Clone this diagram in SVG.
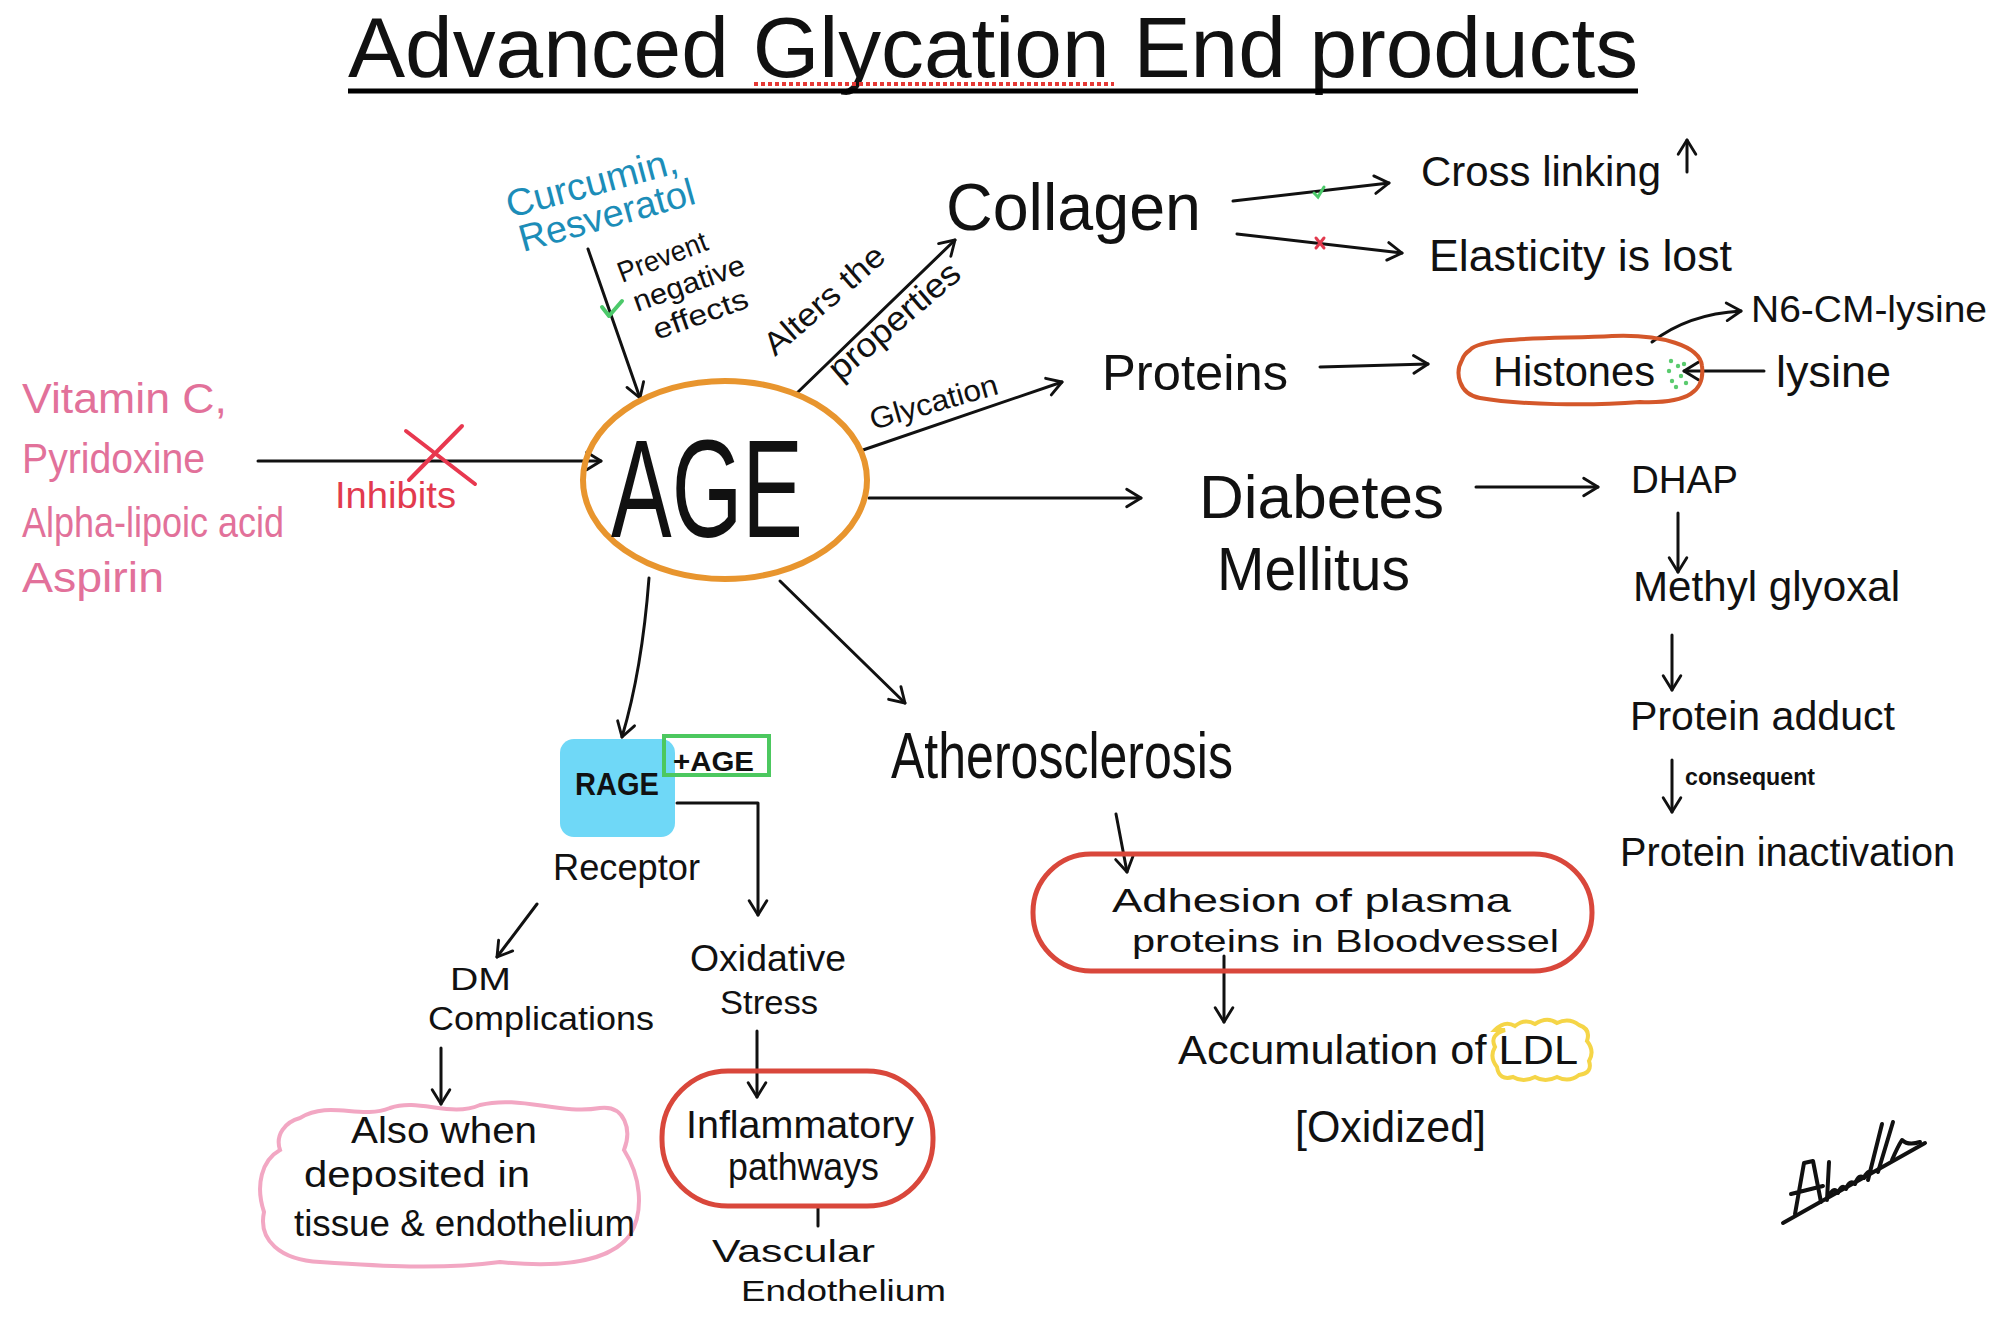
<svg xmlns="http://www.w3.org/2000/svg" width="2004" height="1319" viewBox="0 0 2004 1319">
<defs>
<style>
text{font-family:"Liberation Sans",Arial,sans-serif;fill:#111}
.k{fill:#111}
.pink{fill:#E2719A}
.red{fill:#E23A4E}
.blue{fill:#1C8DB8}
.conn{stroke:#111;stroke-width:3;fill:none;stroke-linecap:round;stroke-linejoin:round}
.ca{marker-end:url(#ah)}
</style>
<marker id="ah" viewBox="0 0 20 20" refX="17" refY="10" markerWidth="22" markerHeight="22" markerUnits="userSpaceOnUse" orient="auto">
<path d="M4,2 L17,10 L4,18" fill="none" stroke="#111" stroke-width="2.6" stroke-linecap="round" stroke-linejoin="round"/>
</marker>
</defs>
<rect width="2004" height="1319" fill="#fff"/>

<g id="title">
<text x="993" y="77" text-anchor="middle" font-size="86" textLength="1290" lengthAdjust="spacingAndGlyphs">Advanced Glycation End products</text>
<line x1="348" y1="91" x2="1638" y2="91" stroke="#000" stroke-width="5"/>
<line x1="754" y1="84" x2="1114" y2="84" stroke="#E53935" stroke-width="4" stroke-dasharray="4 3"/>
</g>

<g id="connectors">
<line class="conn ca" x1="258" y1="461" x2="601" y2="461"/>
<line class="conn ca" x1="588" y1="249" x2="640" y2="398"/>
<line class="conn ca" x1="797" y1="393" x2="955" y2="240"/>
<line class="conn ca" x1="863" y1="450" x2="1062" y2="382"/>
<line class="conn ca" x1="869" y1="498" x2="1141" y2="498"/>
<path class="conn ca" d="M649,578 Q642,670 622,737"/>
<line class="conn ca" x1="780" y1="581" x2="905" y2="703"/>
<line class="conn ca" x1="1233" y1="201" x2="1389" y2="183"/>
<line class="conn ca" x1="1237" y1="234" x2="1402" y2="253"/>
<line class="conn ca" x1="1320" y1="367" x2="1428" y2="364"/>
<path class="conn ca" d="M1652,342 Q1688,314 1741,311"/>
<line class="conn ca" x1="1764" y1="371" x2="1684" y2="371"/>
<line class="conn ca" x1="1476" y1="487" x2="1598" y2="487"/>
<line class="conn ca" x1="1678" y1="513" x2="1678" y2="572"/>
<line class="conn ca" x1="1672" y1="635" x2="1672" y2="690"/>
<line class="conn ca" x1="1672" y1="760" x2="1672" y2="812"/>
<line class="conn ca" x1="1116" y1="814" x2="1127" y2="872"/>
<line class="conn ca" x1="1224" y1="956" x2="1224" y2="1022"/>
<path class="conn ca" d="M677,803 L758,803 L758,915"/>
<line class="conn ca" x1="537" y1="904" x2="497" y2="957"/>
<line class="conn ca" x1="441" y1="1048" x2="441" y2="1104"/>
<line class="conn ca" x1="757" y1="1031" x2="757" y2="1097"/>
<line class="conn" x1="818" y1="1206" x2="818" y2="1226"/>
<line class="conn ca" x1="1687" y1="172" x2="1687" y2="140"/>
<path d="M409,480 L462,426 M406,431 L475,484" stroke="#E8384F" stroke-width="4" fill="none" stroke-linecap="round"/>
<path d="M602,307 L609,316 L622,301" stroke="#4CC96A" stroke-width="4" fill="none" stroke-linecap="round" stroke-linejoin="round"/>
<path d="M1314,193 L1318,197 L1324,187" stroke="#4CC96A" stroke-width="3" fill="none" stroke-linecap="round"/>
<path d="M1316,238 L1324,248 M1324,238 L1316,248" stroke="#E23A4E" stroke-width="3" fill="none" stroke-linecap="round"/>
</g>

<g id="inhibitors">
<text class="pink" x="22" y="413" font-size="42" textLength="205" lengthAdjust="spacingAndGlyphs">Vitamin C,</text>
<text class="pink" x="22" y="473" font-size="42" textLength="183" lengthAdjust="spacingAndGlyphs">Pyridoxine</text>
<text class="pink" x="22" y="537" font-size="42" textLength="262" lengthAdjust="spacingAndGlyphs">Alpha-lipoic acid</text>
<text class="pink" x="22" y="592" font-size="42" textLength="142" lengthAdjust="spacingAndGlyphs">Aspirin</text>
<text class="red" x="335" y="508" font-size="36" textLength="121" lengthAdjust="spacingAndGlyphs">Inhibits</text>
</g>

<g id="curcumin">
<text class="blue" x="510" y="218" font-size="38" textLength="176" lengthAdjust="spacingAndGlyphs" transform="rotate(-15 510 218)">Curcumin,</text>
<text class="blue" x="523" y="252" font-size="38" textLength="181" lengthAdjust="spacingAndGlyphs" transform="rotate(-15.6 523 252)">Resveratol</text>
<text x="622" y="283" font-size="29" textLength="94" lengthAdjust="spacingAndGlyphs" transform="rotate(-21 622 283)">Prevent</text>
<text x="637" y="312" font-size="29" textLength="117" lengthAdjust="spacingAndGlyphs" transform="rotate(-19.5 637 312)">negative</text>
<text x="657" y="340" font-size="29" textLength="99" lengthAdjust="spacingAndGlyphs" transform="rotate(-19.5 657 340)">effects</text>
</g>

<g id="age">
<ellipse cx="725" cy="480" rx="142" ry="99" fill="none" stroke="#E8952E" stroke-width="6"/>
<text x="611" y="537" font-size="140" font-family="Roboto,'Liberation Sans',sans-serif" font-weight="300" textLength="192" lengthAdjust="spacingAndGlyphs">AGE</text>
</g>

<g id="edge-labels">
<text x="775" y="357" font-size="32" textLength="149" lengthAdjust="spacingAndGlyphs" transform="rotate(-41 775 357)">Alters the</text>
<text x="840" y="382" font-size="34" textLength="162" lengthAdjust="spacingAndGlyphs" transform="rotate(-40.5 840 382)">properties</text>
<text x="873" y="430" font-size="30" textLength="132" lengthAdjust="spacingAndGlyphs" transform="rotate(-16 873 430)">Glycation</text>
</g>

<g id="collagen">
<text x="946" y="230" font-size="66" textLength="255" lengthAdjust="spacingAndGlyphs">Collagen</text>
</g>
<g id="cross-linking">
<text x="1421" y="186" font-size="42" textLength="240" lengthAdjust="spacingAndGlyphs">Cross linking</text>
</g>
<g id="elasticity">
<text x="1429" y="271" font-size="44" textLength="303" lengthAdjust="spacingAndGlyphs">Elasticity is lost</text>
</g>

<g id="proteins">
<text x="1102" y="390" font-size="50" textLength="186" lengthAdjust="spacingAndGlyphs">Proteins</text>
</g>
<g id="histones">
<path d="M1470,350 C1482,336 1560,339 1612,336 C1662,334 1700,346 1702,366 C1705,390 1690,404 1640,402 C1590,406 1520,405 1480,398 C1458,394 1455,372 1462,360 C1464,354 1467,352 1470,350 Z" fill="none" stroke="#D4572A" stroke-width="4"/>
<text x="1493" y="386" font-size="42" textLength="162" lengthAdjust="spacingAndGlyphs">Histones</text>
<g fill="#5ACB6E">
<circle cx="1671" cy="361" r="2.2"/><circle cx="1678" cy="366" r="2.2"/><circle cx="1669" cy="371" r="2.2"/><circle cx="1681" cy="376" r="2.2"/><circle cx="1672" cy="381" r="2.2"/><circle cx="1684" cy="364" r="2.2"/><circle cx="1676" cy="387" r="2.2"/><circle cx="1686" cy="383" r="2.2"/>
</g>
</g>
<g id="n6-cm-lysine">
<text x="1751" y="322" font-size="36" textLength="236" lengthAdjust="spacingAndGlyphs">N6-CM-lysine</text>
</g>
<g id="lysine">
<text x="1776" y="387" font-size="44" textLength="115" lengthAdjust="spacingAndGlyphs">lysine</text>
</g>

<g id="diabetes">
<text x="1199" y="518" font-size="62" textLength="245" lengthAdjust="spacingAndGlyphs">Diabetes</text>
<text x="1217" y="590" font-size="62" textLength="193" lengthAdjust="spacingAndGlyphs">Mellitus</text>
</g>
<g id="dhap">
<text x="1631" y="493" font-size="38" textLength="107" lengthAdjust="spacingAndGlyphs">DHAP</text>
</g>
<g id="methyl-glyoxal">
<text x="1633" y="601" font-size="42" textLength="267" lengthAdjust="spacingAndGlyphs">Methyl glyoxal</text>
</g>
<g id="protein-adduct">
<text x="1630" y="730" font-size="41" textLength="265" lengthAdjust="spacingAndGlyphs">Protein adduct</text>
<text x="1685" y="785" font-size="24" font-weight="bold" textLength="130" lengthAdjust="spacingAndGlyphs">consequent</text>
</g>
<g id="protein-inactivation">
<text x="1620" y="866" font-size="40" textLength="335" lengthAdjust="spacingAndGlyphs">Protein inactivation</text>
</g>

<g id="atherosclerosis">
<text x="891" y="778" font-size="64" textLength="342" lengthAdjust="spacingAndGlyphs">Atherosclerosis</text>
</g>
<g id="adhesion">
<rect x="1033" y="854" width="559" height="117" rx="58" fill="none" stroke="#D9473B" stroke-width="5"/>
<text x="1112" y="912" font-size="34" textLength="399" lengthAdjust="spacingAndGlyphs">Adhesion of plasma</text>
<text x="1132" y="952" font-size="32" textLength="427" lengthAdjust="spacingAndGlyphs">proteins in Bloodvessel</text>
</g>
<g id="accumulation">
<path d="M1495,1030 q10,-10 20,-4 q10,-8 20,-2 q12,-8 22,-1 q12,-6 22,2 q12,4 8,16 q8,10 2,20 q4,12 -10,14 q-10,8 -22,2 q-12,6 -22,0 q-12,6 -22,0 q-14,4 -16,-10 q-8,-10 -2,-20 q-6,-12 10,-17 Z" fill="none" stroke="#F5D547" stroke-width="4"/>
<text x="1178" y="1064" font-size="40" textLength="400" lengthAdjust="spacingAndGlyphs">Accumulation of LDL</text>
<text x="1295" y="1142" font-size="44" textLength="191" lengthAdjust="spacingAndGlyphs">[Oxidized]</text>
</g>

<g id="rage">
<rect x="560" y="739" width="115" height="98" rx="14" fill="#6FD8F7"/>
<text x="617" y="795" font-size="31" font-weight="bold" text-anchor="middle" textLength="84" lengthAdjust="spacingAndGlyphs">RAGE</text>
<rect x="664" y="736" width="105" height="39" fill="none" stroke="#4CC85F" stroke-width="4"/>
<text x="673" y="771" font-size="27" font-weight="bold" textLength="81" lengthAdjust="spacingAndGlyphs">+AGE</text>
<text x="553" y="880" font-size="36" textLength="147" lengthAdjust="spacingAndGlyphs">Receptor</text>
</g>

<g id="dm-complications">
<text x="450" y="990" font-size="32" textLength="61" lengthAdjust="spacingAndGlyphs">DM</text>
<text x="428" y="1030" font-size="34" textLength="226" lengthAdjust="spacingAndGlyphs">Complications</text>
</g>
<g id="deposited">
<path d="M300,1118 C330,1100 360,1120 390,1108 C420,1098 450,1118 480,1105 C520,1095 560,1115 600,1108 C625,1105 632,1130 624,1150 C640,1175 645,1210 630,1235 C610,1262 560,1268 500,1262 C440,1270 380,1266 320,1262 C280,1260 258,1240 264,1212 C255,1185 262,1160 280,1150 C275,1135 285,1122 300,1118 Z" fill="none" stroke="#F2A7C3" stroke-width="4"/>
<text x="351" y="1143" font-size="36" textLength="186" lengthAdjust="spacingAndGlyphs">Also when</text>
<text x="304" y="1187" font-size="36" textLength="226" lengthAdjust="spacingAndGlyphs">deposited in</text>
<text x="294" y="1236" font-size="36" textLength="341" lengthAdjust="spacingAndGlyphs">tissue &amp; endothelium</text>
</g>

<g id="oxidative-stress">
<text x="690" y="971" font-size="36" textLength="156" lengthAdjust="spacingAndGlyphs">Oxidative</text>
<text x="720" y="1014" font-size="34" textLength="98" lengthAdjust="spacingAndGlyphs">Stress</text>
</g>
<g id="inflammatory">
<rect x="662" y="1071" width="271" height="135" rx="66" fill="none" stroke="#D9473B" stroke-width="5"/>
<text x="686" y="1138" font-size="38" textLength="228" lengthAdjust="spacingAndGlyphs">Inflammatory</text>
<text x="728" y="1180" font-size="38" textLength="151" lengthAdjust="spacingAndGlyphs">pathways</text>
</g>
<g id="vascular">
<text x="712" y="1262" font-size="32" textLength="163" lengthAdjust="spacingAndGlyphs">Vascular</text>
<text x="741" y="1301" font-size="30" textLength="205" lengthAdjust="spacingAndGlyphs">Endothelium</text>
</g>

<g id="signature" fill="none" stroke="#111" stroke-width="4" stroke-linecap="round" stroke-linejoin="round">
<path d="M1783,1223 L1925,1143"/>
<path d="M1795,1214 L1804,1163 L1813,1161 L1821,1202 M1791,1194 L1823,1186"/>
<path d="M1827,1200 L1829,1162 M1829,1196 q5,-10 9,-3 q4,-10 8,-4 q4,-10 9,-5 q4,-11 9,-6 q3,-8 8,-6 M1868,1180 L1882,1124 M1878,1172 L1893,1122 M1892,1160 q6,-14 10,-20 q6,6 18,2"/>
</g>
</svg>
